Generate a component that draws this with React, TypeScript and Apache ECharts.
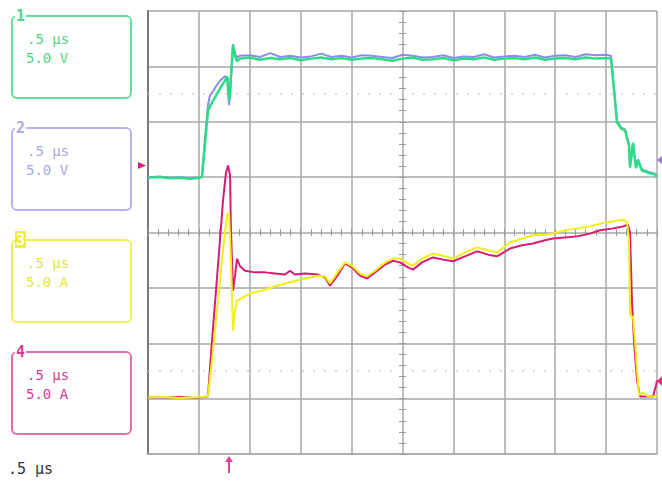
import React, { useEffect, useRef } from "react";
import * as echarts from "echarts";

// Time axis in µs (0.5 µs / div), vertical axis in screen divisions
const timeRange = [0, 5];
const timeStep = 0.5;
const divRange = [-4, 4];
const divStep = 1;
const cursorLevels = [2.5, -2.5];

const channelNames = ["1", "2", "3", "4"];
const channelTimebase = [".5 µs", ".5 µs", ".5 µs", ".5 µs"];
const channelScale = ["5.0 V", "5.0 V", "5.0 A", "5.0 A"];
const timebaseLabel = ".5 µs";

// Channel 1 (green)
const ch1Trace: [number, number][] = [
  [0, 0.99], [0.118, 1.0], [0.216, 0.98], [0.314, 0.99], [0.413, 0.97], [0.511, 0.99], [0.53, 1.0],
  [0.56, 1.6], [0.589, 2.2], [0.629, 2.35], [0.668, 2.47], [0.707, 2.6], [0.756, 2.74], [0.776, 2.82],
  [0.796, 2.38], [0.806, 2.56], [0.835, 3.38], [0.855, 3.19], [0.874, 3.09],
  [0.9, 3.14], [1.0, 3.16], [1.1, 3.12], [1.2, 3.15], [1.3, 3.13], [1.4, 3.15], [1.5, 3.11], [1.6, 3.14],
  [1.7, 3.16], [1.8, 3.13], [1.9, 3.15], [2.0, 3.12], [2.1, 3.14], [2.2, 3.15], [2.3, 3.13], [2.4, 3.1],
  [2.5, 3.14], [2.6, 3.16], [2.7, 3.12], [2.8, 3.13], [2.9, 3.15], [3.0, 3.11], [3.1, 3.14], [3.2, 3.13],
  [3.3, 3.16], [3.4, 3.12], [3.5, 3.14], [3.6, 3.15], [3.7, 3.13], [3.8, 3.16], [3.9, 3.12], [4.0, 3.14],
  [4.1, 3.15], [4.2, 3.13], [4.3, 3.16], [4.4, 3.14], [4.5, 3.15], [4.548, 3.14],
  [4.578, 2.56], [4.607, 1.99], [4.646, 1.88], [4.686, 1.84], [4.725, 1.57], [4.735, 1.17], [4.764, 1.62],
  [4.794, 1.16], [4.813, 1.3], [4.853, 1.12], [4.912, 1.08], [4.98, 1.05], [5.0, 1.0],
];

// Channel 2 (blue)
const ch2Trace: [number, number][] = [
  [0, 1.0], [0.118, 1.01], [0.216, 0.99], [0.314, 1.0], [0.413, 0.98], [0.511, 1.0], [0.53, 1.01],
  [0.56, 1.7], [0.589, 2.3], [0.609, 2.48], [0.629, 2.52], [0.668, 2.64], [0.707, 2.74], [0.756, 2.82],
  [0.786, 2.78], [0.796, 2.3], [0.806, 2.5], [0.835, 3.4], [0.855, 3.24], [0.874, 3.16],
  [0.9, 3.19], [1.0, 3.2], [1.1, 3.17], [1.2, 3.24], [1.3, 3.17], [1.4, 3.19], [1.5, 3.16], [1.6, 3.18],
  [1.7, 3.23], [1.8, 3.17], [1.9, 3.19], [2.0, 3.16], [2.1, 3.2], [2.2, 3.19], [2.3, 3.17], [2.4, 3.15],
  [2.5, 3.21], [2.6, 3.19], [2.7, 3.16], [2.8, 3.17], [2.9, 3.2], [3.0, 3.15], [3.1, 3.18], [3.2, 3.17],
  [3.3, 3.22], [3.4, 3.16], [3.5, 3.18], [3.6, 3.19], [3.7, 3.17], [3.8, 3.21], [3.9, 3.16], [4.0, 3.19],
  [4.1, 3.2], [4.2, 3.17], [4.3, 3.22], [4.4, 3.2], [4.5, 3.21], [4.548, 3.19],
  [4.578, 2.6], [4.607, 2.02], [4.646, 1.9], [4.686, 1.86], [4.725, 1.6], [4.735, 1.2], [4.764, 1.6],
  [4.794, 1.18], [4.813, 1.32], [4.853, 1.14], [4.912, 1.1], [4.98, 1.06], [5.0, 1.02],
];

// Channel 3 (yellow)
const ch3Trace: [number, number][] = [
  [0, -2.98], [0.167, -2.97], [0.314, -2.99], [0.462, -2.98], [0.589, -2.96], [0.629, -2.31], [0.668, -1.59],
  [0.707, -0.87], [0.747, -0.14], [0.776, 0.31], [0.796, 0.36], [0.815, -0.51], [0.835, -1.77], [0.855, -1.41],
  [0.874, -1.23], [0.923, -1.19], [1.002, -1.1], [1.12, -1.05], [1.248, -0.97], [1.395, -0.9], [1.542, -0.83],
  [1.67, -0.78], [1.739, -0.79], [1.788, -0.92], [1.847, -0.76], [1.935, -0.54], [2.004, -0.6], [2.083, -0.74],
  [2.151, -0.79], [2.23, -0.69], [2.328, -0.54], [2.407, -0.47], [2.475, -0.47], [2.554, -0.56], [2.603, -0.6],
  [2.692, -0.47], [2.8, -0.38], [2.898, -0.42], [2.996, -0.47], [3.114, -0.36], [3.232, -0.27], [3.34, -0.32],
  [3.428, -0.36], [3.556, -0.18], [3.674, -0.11], [3.782, -0.05], [3.9, -0.04], [3.978, -0.02], [4.096, 0.04],
  [4.214, 0.07], [4.342, 0.11], [4.44, 0.16], [4.558, 0.2], [4.666, 0.23], [4.705, 0.2], [4.725, -0.14],
  [4.735, -1.5], [4.764, -1.52], [4.784, -1.95], [4.804, -2.49], [4.823, -2.94], [4.862, -2.89], [4.912, -2.96],
  [4.98, -2.96], [5.0, -2.94],
];

// Channel 4 (magenta)
const ch4Trace: [number, number][] = [
  [0, -2.98], [0.167, -2.98], [0.314, -2.97], [0.462, -2.99], [0.589, -2.96], [0.629, -1.95], [0.668, -1.05],
  [0.707, -0.14], [0.737, 0.58], [0.766, 1.08], [0.786, 1.21], [0.806, 1.03], [0.815, 0.04], [0.835, -1.05],
  [0.855, -0.78], [0.874, -0.47], [0.904, -0.61], [0.953, -0.69], [1.051, -0.72], [1.149, -0.72], [1.248, -0.74],
  [1.346, -0.76], [1.395, -0.69], [1.444, -0.76], [1.542, -0.74], [1.67, -0.76], [1.739, -0.81], [1.788, -0.96],
  [1.857, -0.79], [1.935, -0.56], [2.004, -0.63], [2.083, -0.78], [2.151, -0.83], [2.23, -0.72], [2.328, -0.58],
  [2.407, -0.51], [2.475, -0.54], [2.554, -0.63], [2.603, -0.67], [2.692, -0.54], [2.8, -0.45], [2.898, -0.49],
  [2.996, -0.52], [3.114, -0.43], [3.232, -0.34], [3.34, -0.4], [3.428, -0.43], [3.556, -0.29], [3.674, -0.23],
  [3.782, -0.2], [3.9, -0.14], [3.978, -0.11], [4.096, -0.09], [4.214, -0.07], [4.342, -0.02], [4.44, 0.04],
  [4.558, 0.07], [4.666, 0.11], [4.715, 0.14], [4.735, 0.0], [4.754, -1.23], [4.774, -1.95], [4.804, -2.67],
  [4.833, -2.96], [4.912, -2.96], [4.961, -2.96], [4.99, -2.76], [5.0, -2.67],
];

const GRID = { left: 148, top: 11, width: 509, height: 443 };
const gridColor = "#a9a9a9";
const traceColors = ["#2fdc86", "#8c8cf0", "#f0f018", "#d81b74"];
const boxColors = ["#66dd99", "#b4b4ee", "#eeee55", "#e070b0"];
const textColors = ["#4fd488", "#a8a8e6", "#e6e63c", "#d63c96"];
const boxTops = [16, 128, 240, 352];

function buildOption() {
  const mono = '"DejaVu Sans Mono", monospace';
  const graphics: any[] = [];
  boxTops.forEach((top, i) => {
    graphics.push({
      type: "rect",
      shape: { x: 12, y: top, width: 119, height: 82, r: 5 },
      style: { fill: "none", stroke: boxColors[i], lineWidth: 2 },
      z: 10,
    });
    graphics.push({
      type: "text",
      x: 27,
      y: top + 16,
      style: { text: channelTimebase[i], fill: textColors[i], font: `14px ${mono}` },
      z: 11,
    });
    graphics.push({
      type: "text",
      x: 26,
      y: top + 35,
      style: { text: channelScale[i], fill: textColors[i], font: `14px ${mono}` },
      z: 11,
    });
    const isSelected = i === 2;
    graphics.push({
      type: "text",
      x: 15,
      y: top - 9,
      style: {
        text: channelNames[i],
        fill: isSelected ? "#ffffff" : textColors[i],
        font: `bold 15px ${mono}`,
        backgroundColor: isSelected ? "#efef3c" : "#ffffff",
        padding: [1, 1, 1, 1],
      },
      z: 12,
    });
  });
  graphics.push({
    type: "text",
    x: 8,
    y: 461,
    style: { text: timebaseLabel, fill: "#333333", font: `15px ${mono}` },
  });
  // trigger level marker (left)
  graphics.push({
    type: "polygon",
    shape: { points: [[138, 162], [146, 165.5], [138, 169]] },
    style: { fill: "#d8207a" },
  });
  // trigger position marker (bottom)
  graphics.push({
    type: "polygon",
    shape: { points: [[225, 462], [229, 456], [233, 462]] },
    style: { fill: "#e0409a" },
  });
  graphics.push({
    type: "line",
    shape: { x1: 229, y1: 460, x2: 229, y2: 473 },
    style: { stroke: "#e0409a", lineWidth: 2 },
  });
  // ground markers on right edge
  graphics.push({
    type: "polygon",
    shape: { points: [[662, 156], [657, 160], [662, 164]] },
    style: { fill: "#9a7ad8" },
    z: 20,
  });
  graphics.push({
    type: "polygon",
    shape: { points: [[662, 376], [657, 381], [662, 386]] },
    style: { fill: "#e0307a" },
    z: 20,
  });

  const lineSeries = (data: [number, number][], color: string, z: number, width: number, extra: any = {}) => ({
    type: "line",
    data,
    showSymbol: false,
    symbol: "none",
    xAxisIndex: 0,
    yAxisIndex: 0,
    lineStyle: { color, width },
    itemStyle: { color },
    z,
    silent: true,
    ...extra,
  });

  return {
    animation: false,
    backgroundColor: "#ffffff",
    grid: { ...GRID, containLabel: false },
    xAxis: [
      {
        type: "value",
        min: timeRange[0],
        max: timeRange[1],
        interval: timeStep,
        axisLabel: { show: false },
        axisTick: { show: false },
        axisLine: { show: true, onZero: false, lineStyle: { color: gridColor, width: 1.5 } },
        splitLine: { show: true, lineStyle: { color: gridColor, width: 1.5 } },
      },
      {
        type: "value",
        min: timeRange[0],
        max: timeRange[1],
        interval: timeStep,
        position: "bottom",
        offset: -225,
        axisLabel: { show: false },
        axisLine: { show: false, onZero: false },
        axisTick: { show: true, length: 7, lineStyle: { color: "#999999", width: 1 } },
        minorTick: { show: true, splitNumber: 5, length: 7, lineStyle: { color: "#999999", width: 1 } },
        splitLine: { show: false },
      },
    ],
    yAxis: [
      {
        type: "value",
        min: divRange[0],
        max: divRange[1],
        interval: divStep,
        axisLabel: { show: false },
        axisTick: { show: false },
        axisLine: { show: true, onZero: false, lineStyle: { color: "#7a7a7a", width: 2 } },
        splitLine: { show: true, lineStyle: { color: gridColor, width: 1.5 } },
      },
      {
        type: "value",
        min: divRange[0],
        max: divRange[1],
        interval: divStep,
        position: "left",
        offset: -258,
        axisLabel: { show: false },
        axisLine: { show: false, onZero: false },
        axisTick: { show: true, length: 7, lineStyle: { color: "#999999", width: 1 } },
        minorTick: { show: true, splitNumber: 5, length: 7, lineStyle: { color: "#999999", width: 1 } },
        splitLine: { show: false },
      },
    ],
    series: [
      lineSeries(ch2Trace, traceColors[1], 2, 2, {
        markLine: {
          silent: true,
          symbol: "none",
          label: { show: false },
          lineStyle: { color: "#cfcfcf", width: 1.5, type: [2, 9] },
          data: cursorLevels.map((v) => ({ yAxis: v })),
        },
      }),
      lineSeries(ch1Trace, traceColors[0], 3, 2.5),
      lineSeries(ch4Trace, traceColors[3], 4, 2),
      lineSeries(ch3Trace, traceColors[2], 5, 2),
    ],
    graphic: graphics,
  };
}

export default function App() {
  const ref = useRef<HTMLDivElement>(null);
  useEffect(() => {
    document.body.style.margin = "0";
    const chart = echarts.init(ref.current as HTMLDivElement, null, { renderer: "svg" });
    chart.setOption(buildOption() as any);
    return () => {
      chart.dispose();
    };
  }, []);
  return (
    <div
      ref={ref}
      style={{ position: "absolute", left: 0, top: 0, width: 662, height: 483, background: "#ffffff" }}
    />
  );
}
